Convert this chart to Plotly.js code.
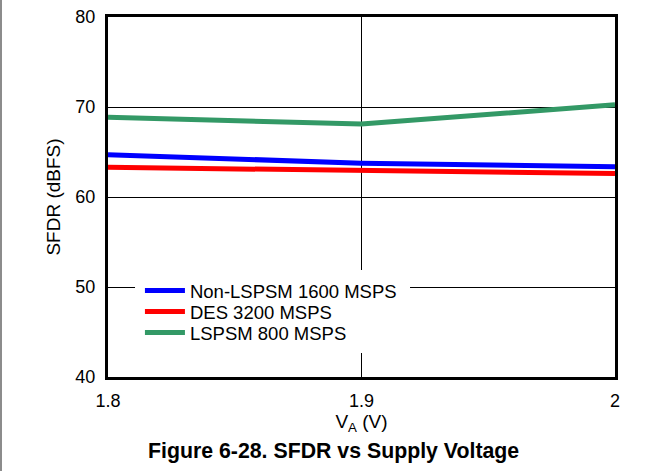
<!DOCTYPE html>
<html><head><meta charset="utf-8">
<script src="https://cdn.plot.ly/plotly-3.0.1.min.js"></script>
<style>
html,body{margin:0;padding:0;background:#fff;}
#edge{position:absolute;left:0;top:0;width:2px;height:471px;background:#8c8c8c;}
#chart{position:absolute;left:0;top:0;width:663px;height:471px;}
</style></head>
<body>
<div id="chart"></div>
<div id="edge"></div>
<script>
const voltages = [1.8, 1.9, 2.0];
const nonLspsm1600 = [64.7, 63.75, 63.35];
const des3200 = [63.3, 62.9, 62.6];
const lspsm800 = [68.85, 68.1, 70.25];
const seriesNames = ['Non-LSPSM 1600 MSPS', 'DES 3200 MSPS', 'LSPSM 800 MSPS'];
const xTickVals = [1.8, 1.9, 2.0];
const xTickText = ['1.8', '1.9', '2'];
const yTickVals = [40, 50, 60, 70, 80];

const font = 'Liberation Sans, Arial, sans-serif';
const colors = ['#0000ff', '#ff0000', '#339966'];
const ys = [nonLspsm1600, des3200, lspsm800];
const legendIds = ['legend', 'legend2', 'legend3'];
const legendTops = [0.2917, 0.2333, 0.175];
const traces = ys.map((y, i) => ({
  x: voltages, y: y, name: seriesNames[i], type: 'scatter', mode: 'lines',
  line: {color: colors[i], width: 5}, legend: legendIds[i]
}));

const layout = {
  width: 663, height: 471,
  margin: {l: 108, r: 48, t: 17, b: 94},
  paper_bgcolor: '#fff', plot_bgcolor: '#fff',
  font: {family: font, color: '#000', size: 18},
  showlegend: true,
  xaxis: {range: [1.8, 2.0], tickvals: xTickVals, ticktext: xTickText,
          showgrid: true, gridcolor: '#000', gridwidth: 1, zeroline: false,
          showline: true, mirror: true, linecolor: '#000', linewidth: 3,
          ticks: '', tickfont: {size: 18}, ticklabelstandoff: 5,
          title: {text: 'V<sub>A</sub> (V)', font: {size: 19}, standoff: 3}},
  yaxis: {range: [40, 80], tickvals: yTickVals,
          showgrid: true, gridcolor: '#000', gridwidth: 1, zeroline: false,
          showline: true, mirror: true, linecolor: '#000', linewidth: 3,
          ticks: '', tickfont: {size: 18}, ticklabelstandoff: 6,
          title: {text: 'SFDR (dBFS)', font: {size: 19}, standoff: 10}},
  shapes: [{type: 'rect', xref: 'paper', yref: 'paper', layer: 'above',
            x0: 0.0533, x1: 0.5957, y0: 0.0667, y1: 0.297,
            fillcolor: '#fff', line: {width: 0}}],
  annotations: [{text: '<b>Figure 6-28. SFDR vs Supply Voltage</b>', xref: 'paper', yref: 'paper',
                 x: 0.4448, y: -0.205, xanchor: 'center', yanchor: 'middle', showarrow: false,
                 font: {family: font, size: 21.3, color: '#000'}}]
};
legendIds.forEach((id, i) => {
  layout[id] = {x: 0.063, y: legendTops[i], xanchor: 'left', yanchor: 'top',
                bgcolor: 'rgba(0,0,0,0)', itemwidth: 40,
                font: {family: font, size: 18.5, color: '#000'}};
});
Plotly.newPlot('chart', traces, layout, {displayModeBar: false, staticPlot: true});
</script>
</body></html>
